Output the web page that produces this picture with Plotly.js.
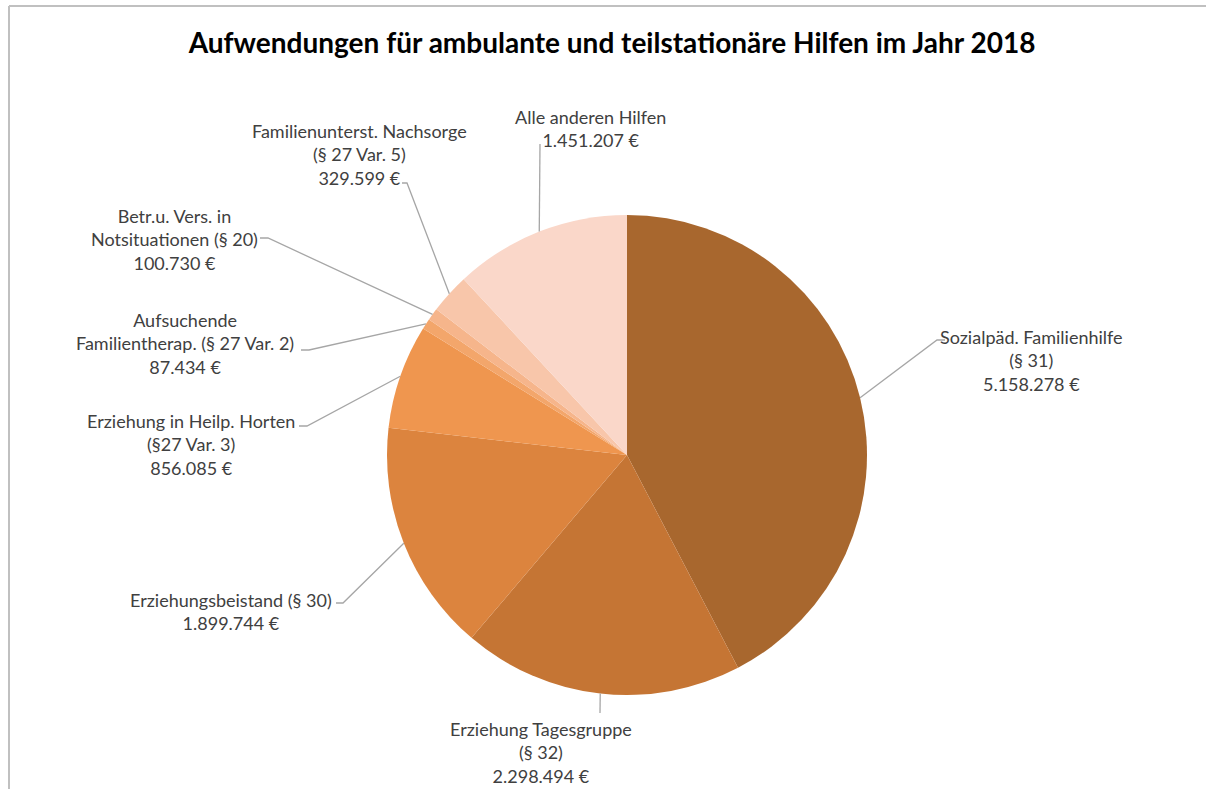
<!DOCTYPE html>
<html>
<head>
<meta charset="utf-8">
<script src="https://cdn.plot.ly/plotly-3.0.1.min.js"></script>
<style>
  html, body { margin: 0; padding: 0; background: #ffffff; }
  #chart { width: 1206px; height: 789px; }
</style>
</head>
<body>
<div id="chart"></div>
<script>
// ---- Data ----
const titleText = "Aufwendungen für ambulante und teilstationäre Hilfen im Jahr 2018";
const categories = [
  "Sozialpäd. Familienhilfe<br>(§ 31)",
  "Erziehung Tagesgruppe<br>(§ 32)",
  "Erziehungsbeistand (§ 30)",
  "Erziehung in Heilp. Horten<br>(§27 Var. 3)",
  "Aufsuchende<br>Familientherap. (§ 27 Var. 2)",
  "Betr.u. Vers. in<br>Notsituationen (§ 20)",
  "Familienunterst. Nachsorge<br>(§ 27 Var. 5)",
  "Alle anderen Hilfen"
];
const values = [5158278, 2298494, 1899744, 856085, 87434, 100730, 329599, 1451207];
const colors = ["#A8672E", "#C57534", "#DC843E", "#EF964F", "#F3A66B", "#F6B58B", "#F8C6AA", "#FAD7C9"];

// ---- Layout helpers (pixel positions of labels and leader elbows) ----
const W = 1206, H = 789;
const cx = 627, cy = 455, R = 240;
// label block centre [x, y] and leader polyline points (from label end towards the pie)
const labelPos = [
  [1031, 360], [541, 752], [231, 611], [191, 444],
  [185, 343], [174, 240], [359, 155], [590, 128]
];
const leaderElbows = [
  [[945, 340], [937, 340]],
  [[600, 713]],
  [[336, 603], [343, 603]],
  [[299, 426], [307, 426]],
  [[301, 350], [309, 350]],
  [[260, 238], [268, 238]],
  [[402, 183], [407, 183]],
  [[540, 144]]
];

function fmt(v) {
  return v.toString().replace(/\B(?=(\d{3})+(?!\d))/g, ".") + " €";
}
const px = x => x / W;
const py = y => 1 - y / H;

const total = values.reduce((a, b) => a + b, 0);
let cum = 0;
const shapes = [];
const annotations = [];
values.forEach((v, i) => {
  const mid = (cum + v / 2) / total * 2 * Math.PI;
  cum += v;
  const ex = cx + R * Math.sin(mid);
  const ey = cy - R * Math.cos(mid);
  const pts = leaderElbows[i].concat([[ex, ey]]);
  let path = "M" + px(pts[0][0]) + "," + py(pts[0][1]);
  for (let k = 1; k < pts.length; k++) path += " L" + px(pts[k][0]) + "," + py(pts[k][1]);
  shapes.push({type: "path", xref: "paper", yref: "paper", path: path,
               line: {color: "#A6A6A6", width: 1.3}});
  annotations.push({
    xref: "paper", yref: "paper",
    x: px(labelPos[i][0]), y: py(labelPos[i][1]),
    xanchor: "center", yanchor: "middle", align: "center",
    showarrow: false,
    text: categories[i] + "<br>" + fmt(v),
    font: {family: "Lato, 'Open Sans', sans-serif", size: 18, color: "#404040"}
  });
});

// frame
shapes.push({type: "line", xref: "paper", yref: "paper", x0: px(9), x1: 1, y0: py(6), y1: py(6),
             line: {color: "#C0C0C0", width: 2}});
shapes.push({type: "line", xref: "paper", yref: "paper", x0: px(9), x1: px(9), y0: py(6), y1: 0,
             line: {color: "#C0C0C0", width: 2}});

const trace = {
  type: "pie",
  labels: categories,
  values: values,
  marker: {colors: colors, line: {width: 0}},
  sort: false,
  direction: "clockwise",
  rotation: 0,
  textinfo: "none",
  hoverinfo: "label+value",
  domain: {x: [px(cx - R), px(cx + R)], y: [py(cy + R), py(cy - R)]},
  showlegend: false
};

const layout = {
  width: W, height: H,
  margin: {l: 0, r: 0, t: 0, b: 0},
  paper_bgcolor: "#ffffff",
  title: {
    text: "<b>" + titleText + "</b>",
    x: 0.5075, xanchor: "center",
    y: 1 - 43 / H, yanchor: "middle",
    font: {family: "Lato, 'Open Sans', sans-serif", size: 28, color: "#000000"}
  },
  shapes: shapes,
  annotations: annotations,
  showlegend: false
};

Plotly.newPlot("chart", [trace], layout, {displayModeBar: false, staticPlot: true});
</script>
</body>
</html>
